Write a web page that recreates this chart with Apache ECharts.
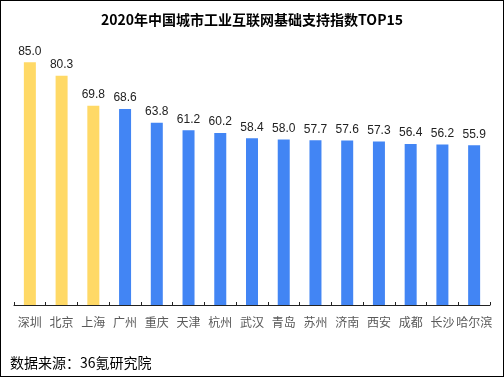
<!DOCTYPE html>
<html>
<head>
<meta charset="utf-8">
<script src="https://cdn.jsdelivr.net/npm/echarts@6/dist/echarts.min.js"></script>
<style>
  html, body { margin: 0; padding: 0; background: #fff; }
  #chart { width: 504px; height: 377px; box-sizing: border-box; border: 1px solid #000; }
</style>
</head>
<body>
<div id="chart"></div>
<script>
  let cities = ['深圳', '北京', '上海', '广州', '重庆', '天津', '杭州', '武汉', '青岛', '苏州', '济南', '西安', '成都', '长沙', '哈尔滨'];
  let scores = [85.0, 80.3, 69.8, 68.6, 63.8, 61.2, 60.2, 58.4, 58.0, 57.7, 57.6, 57.3, 56.4, 56.2, 55.9];
  let highlightCount = 3;

  let font = '"Microsoft YaHei", "Noto Sans CJK SC", sans-serif';

  let option = {
    animation: false,
    textStyle: { fontFamily: font },
    title: {
      text: '2020年中国城市工业互联网基础支持指数TOP15',
      left: 'center',
      top: 7,
      textStyle: { fontSize: 14, fontWeight: 'bold', color: '#000', fontFamily: font }
    },
    graphic: [
      {
        type: 'text',
        left: 9,
        top: 355,
        style: { text: '数据来源：36氪研究院', fontSize: 14, fill: '#000', fontFamily: font }
      }
    ],
    grid: {
      left: 13,
      right: 13,
      top: 47,
      bottom: 71
    },
    xAxis: {
      type: 'category',
      data: cities,
      axisLine: { lineStyle: { color: '#222', width: 1 } },
      axisTick: { show: true, inside: true, length: 3, lineStyle: { color: '#222' } },
      axisLabel: { color: '#595959', fontSize: 12, margin: 11, interval: 0, fontFamily: font }
    },
    yAxis: {
      type: 'value',
      min: 0,
      max: 90,
      show: false,
      splitLine: { show: false }
    },
    series: [
      {
        type: 'bar',
        barWidth: 12,
        data: scores.map(function (v, i) {
          return {
            value: v,
            itemStyle: { color: i < highlightCount ? '#FFD966' : '#4285F4' }
          };
        }),
        label: {
          show: true,
          position: 'top',
          distance: 5,
          color: '#222',
          fontSize: 12,
          fontFamily: 'Arial, "Liberation Sans", sans-serif',
          formatter: function (p) { return p.value.toFixed(1); }
        }
      }
    ]
  };

  var myChart = echarts.init(document.getElementById('chart'));
  myChart.setOption(option);
</script>
</body>
</html>
